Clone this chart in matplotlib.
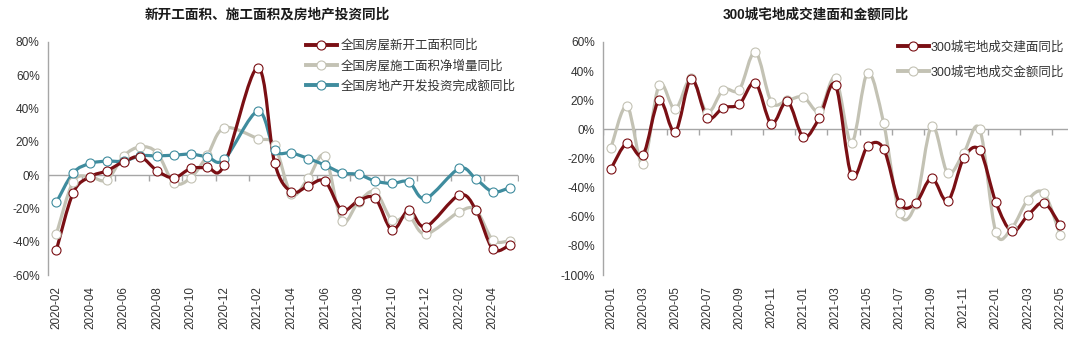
import numpy as np
import matplotlib
matplotlib.use("Agg")
import matplotlib.pyplot as plt
from matplotlib.path import Path
from matplotlib.patches import PathPatch
from matplotlib.lines import Line2D

plt.rcParams['font.family'] = ['Liberation Sans', 'Noto Sans CJK SC']

nan = np.nan

# left chart: national data (Jan missing, reported together with Feb)
left_months = ['2020-02', '2020-03', '2020-04', '2020-05', '2020-06', '2020-07', '2020-08',
               '2020-09', '2020-10', '2020-11', '2020-12', '2021-01', '2021-02', '2021-03',
               '2021-04', '2021-05', '2021-06', '2021-07', '2021-08', '2021-09', '2021-10',
               '2021-11', '2021-12', '2022-01', '2022-02', '2022-03', '2022-04', '2022-05']
new_start = [-45, -10.6, -1, 2.6, 8, 11, 2.6, -1.6, 4, 4.6, 6, nan, 64.6, 7.4,
             -10, -6.4, -3.6, -21, -15.4, -14, -33, -21, -31, nan, -12, -21, -44.4, -42]
under_constr = [-35.4, -4, -1, -3, 11.4, 17, 13.4, -4.6, -1.6, 12, 28.4, nan, 22, 18,
                -11.4, -2, 11.4, -27.4, -16, -10, -27, -24.6, -35.4, nan, -22, -21, -39, -39.4]
invest = [-16.4, 1.4, 7, 8.4, 8.4, 11.6, 11.6, 12, 12.6, 11, 9.4, nan, 38.4, 15,
          13.4, 10, 6, 1.4, 0.4, -3.6, -5, -4, -14, nan, 4, -2.4, -10, -7.6]

# right chart: 300 cities land deals
right_months = ['2020-01', '2020-02', '2020-03', '2020-04', '2020-05', '2020-06', '2020-07',
                '2020-08', '2020-09', '2020-10', '2020-11', '2020-12', '2021-01', '2021-02',
                '2021-03', '2021-04', '2021-05', '2021-06', '2021-07', '2021-08', '2021-09',
                '2021-10', '2021-11', '2021-12', '2022-01', '2022-02', '2022-03', '2022-04',
                '2022-05']
land_area = [-27, -9.4, -17.4, 20, -1.8, 34.8, 8, 14.9, 17.2, 32, 3.9, 19.3, -5.3, 8,
             30.3, -31.6, -11.7, -13.3, -50.7, -50.7, -33.5, -49.3, -19.7, -14.4, -50,
             -70, -59, -50.4, -65.6]
land_value = [-12.6, 16, -24, 30.3, 13.8, 35.3, 11.5, 27.3, 27.3, 53.2, 18.8, 20, 22.2, 12.4,
              35.3, -9.2, 38.7, 4.4, -57.5, -51.1, 2.3, -30, -16, 0, -70.6, -67.6, -48.4,
              -43.8, -72.2]

RED = '#7a0f14'
GRAY = '#c3c2b4'
TEAL = '#3f8c9e'
AXIS = '#a6a6a6'
TXT = '#333333'


def smooth_line(ax, xs, ys, color):
    # excel-like smoothed line (catmull-rom bezier), gaps are bridged
    xs = np.asarray(xs, float)
    ys = np.asarray(ys, float)
    ok = ~np.isnan(ys)
    x, y = xs[ok], ys[ok]
    n = len(x)
    verts = [(x[0], y[0])]
    codes = [Path.MOVETO]
    for i in range(n - 1):
        a = i - 1 if i > 0 else i
        b = i + 2 if i + 2 < n else i + 1
        c1 = (x[i] + (x[i + 1] - x[a]) / 6, y[i] + (y[i + 1] - y[a]) / 6)
        c2 = (x[i + 1] - (x[b] - x[i]) / 6, y[i + 1] - (y[b] - y[i]) / 6)
        verts += [c1, c2, (x[i + 1], y[i + 1])]
        codes += [Path.CURVE4] * 3
    ax.add_patch(PathPatch(Path(verts, codes), fill=False, edgecolor=color, lw=2.3,
                           capstyle='round', joinstyle='round', zorder=2))
    ax.plot(x, y, ls='none', marker='o', ms=6.5, mfc='white', mec=color, mew=0.8, zorder=3)


def style_axis(ax, months, ylo, yhi, ystep):
    n = len(months)
    ax.set_xlim(-0.5, n - 0.5)
    ax.set_ylim(ylo, yhi)
    for s in ['top', 'right', 'bottom']:
        ax.spines[s].set_visible(False)
    ax.spines['left'].set_color(AXIS)
    ax.spines['left'].set_linewidth(1)
    yt = np.arange(ylo, yhi + 1, ystep)
    ax.set_yticks(yt)
    ax.set_yticklabels(['%d%%' % v for v in yt])
    ax.tick_params(axis='y', length=0, pad=6, labelsize=8.6, labelcolor=TXT)
    xt = np.arange(0, n, 2)
    ax.set_xticks(xt)
    ax.set_xticklabels([months[i] for i in xt], rotation=90)
    ax.tick_params(axis='x', length=0, pad=8, labelsize=8.4, labelcolor=TXT)
    # zero line with small tick marks between categories
    ax.axhline(0, color=AXIS, lw=1, zorder=1)
    bx = np.arange(-0.5, n, 2)
    ax.plot(bx, np.zeros(len(bx)), ls='none', marker=3, ms=4, mew=1, color=AXIS, zorder=1)


def handle(color):
    return Line2D([], [], color=color, lw=2.8, marker='o', ms=6.5, mfc='white', mec=color, mew=0.8)


fig = plt.figure(figsize=(10.8, 3.43), dpi=100)

ax1 = fig.add_axes([48 / 1080, 68 / 343, 470 / 1080, 233 / 343])
style_axis(ax1, left_months, -60, 80, 20)
xl = np.arange(len(left_months))
smooth_line(ax1, xl, under_constr, GRAY)
smooth_line(ax1, xl, invest, TEAL)
smooth_line(ax1, xl, new_start, RED)
ax1.legend([handle(RED), handle(GRAY), handle(TEAL)],
           ['全国房屋新开工面积同比', '全国房屋施工面积净增量同比', '全国房地产开发投资完成额同比'],
           loc='upper left', bbox_to_anchor=(0.548, 1.01), frameon=False, fontsize=9,
           handlelength=2.5, handletextpad=0.3, labelspacing=0.6, borderpad=0, borderaxespad=0,
           labelcolor=TXT)

ax2 = fig.add_axes([603 / 1080, 68 / 343, 465 / 1080, 233 / 343])
style_axis(ax2, right_months, -100, 60, 20)
xr = np.arange(len(right_months))
smooth_line(ax2, xr, land_value, GRAY)
smooth_line(ax2, xr, land_area, RED)
ax2.legend([handle(RED), handle(GRAY)],
           ['300城宅地成交建面同比', '300城宅地成交金额同比'],
           loc='upper left', bbox_to_anchor=(0.634, 1.005), frameon=False, fontsize=9,
           handlelength=2.5, handletextpad=0.1, labelspacing=1.05, borderpad=0, borderaxespad=0,
           labelcolor=TXT)

fig.text(267.5 / 1080, 1 - 15 / 343, '新开工面积、施工面积及房地产投资同比', ha='center', va='center',
         fontsize=9.8, fontweight='bold', color='#1a1a1a')
fig.text(816 / 1080, 1 - 15 / 343, '300城宅地成交建面和金额同比', ha='center', va='center',
         fontsize=9.8, fontweight='bold', color='#1a1a1a')

fig.savefig('out.png', dpi=100, facecolor='white')
